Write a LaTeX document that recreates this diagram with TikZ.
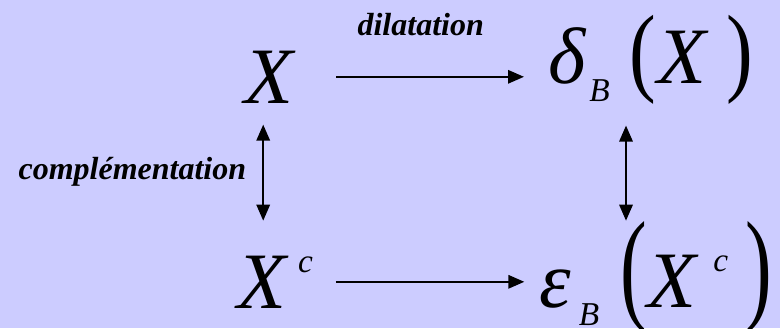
\documentclass[tikz,border=0pt]{standalone}
\usepackage{fontspec}
\setmainfont{Liberation Serif}
\usepackage{graphicx}
\usepackage{xcolor}
\definecolor{pageBack}{HTML}{CCCCFF}
\usetikzlibrary{arrows.meta, positioning, calc}
\newcommand{\smallsym}[1]{{\fontsize{25}{29}\selectfont #1}}
\newcommand{\tallparen}[2]{\scalebox{1}[#1]{\upshape #2}}
\tikzset{
    term/.style={inner sep=0pt, anchor=base west,
                 font=\fontsize{60}{72}\selectfont\itshape},
    maplabel/.style={inner sep=0pt, font=\fontsize{24}{28}\selectfont\bfseries\itshape},
    maparrow/.style={-{Triangle[length=12pt, width=10pt]}, line width=1.6pt},
    duarrow/.style={{Triangle[length=12pt, width=10pt]}-{Triangle[length=12pt, width=10pt]},
                    line width=1.6pt},
}

\begin{document}
\begin{tikzpicture}[x=0.75pt, y=-0.75pt]
    \fill[pageBack] (0,0) rectangle (780,328);
    \useasboundingbox (0,0) rectangle (780,328);
    \node[term] (X) at (244,103) {X};
    \node[term] (dX) at (548,83)
        {δ\hspace{3pt}\raisebox{-14pt}{\smallsym{B}}\hspace{15pt}\tallparen{1.23}{(}\hspace{1pt}X\hspace{15pt}\tallparen{1.23}{)}};
    \node[term] (Xc) at (237,308) {X\hspace{9pt}\raisebox{27pt}{\smallsym{c}}};
    \node[term] (eXc) at (539,307)
        {ε\hspace{6pt}\raisebox{-14pt}{\smallsym{B}}\hspace{16pt}\tallparen{1.55}{(}X\hspace{13pt}\raisebox{27pt}{\smallsym{c}}\hspace{13pt}\tallparen{1.55}{)}};
    \draw[maparrow, shorten <=32pt, shorten >=18pt] (X.east) -- (X.east -| dX.west)
        node[maplabel, midway, above=30pt] (dil) {dilatation};
    \draw[maparrow, shorten <=17pt, shorten >=11pt] (Xc.east) -- (Xc.east -| eXc.west);
    \draw[duarrow, shorten <=16pt, shorten >=26pt] ($(X.south)+(-5.5,0)$) -- ($(X.south |- Xc.north)+(-5.5,0)$)
        node[maplabel, pos=0.45, left=12pt] (compl) {complémentation};
    \draw[duarrow, shorten <=16pt] ($(dX.south west)+(78,0)$) -- ($(dX.south west |- eXc.north)+(78,0)$);
\end{tikzpicture}
\end{document}
